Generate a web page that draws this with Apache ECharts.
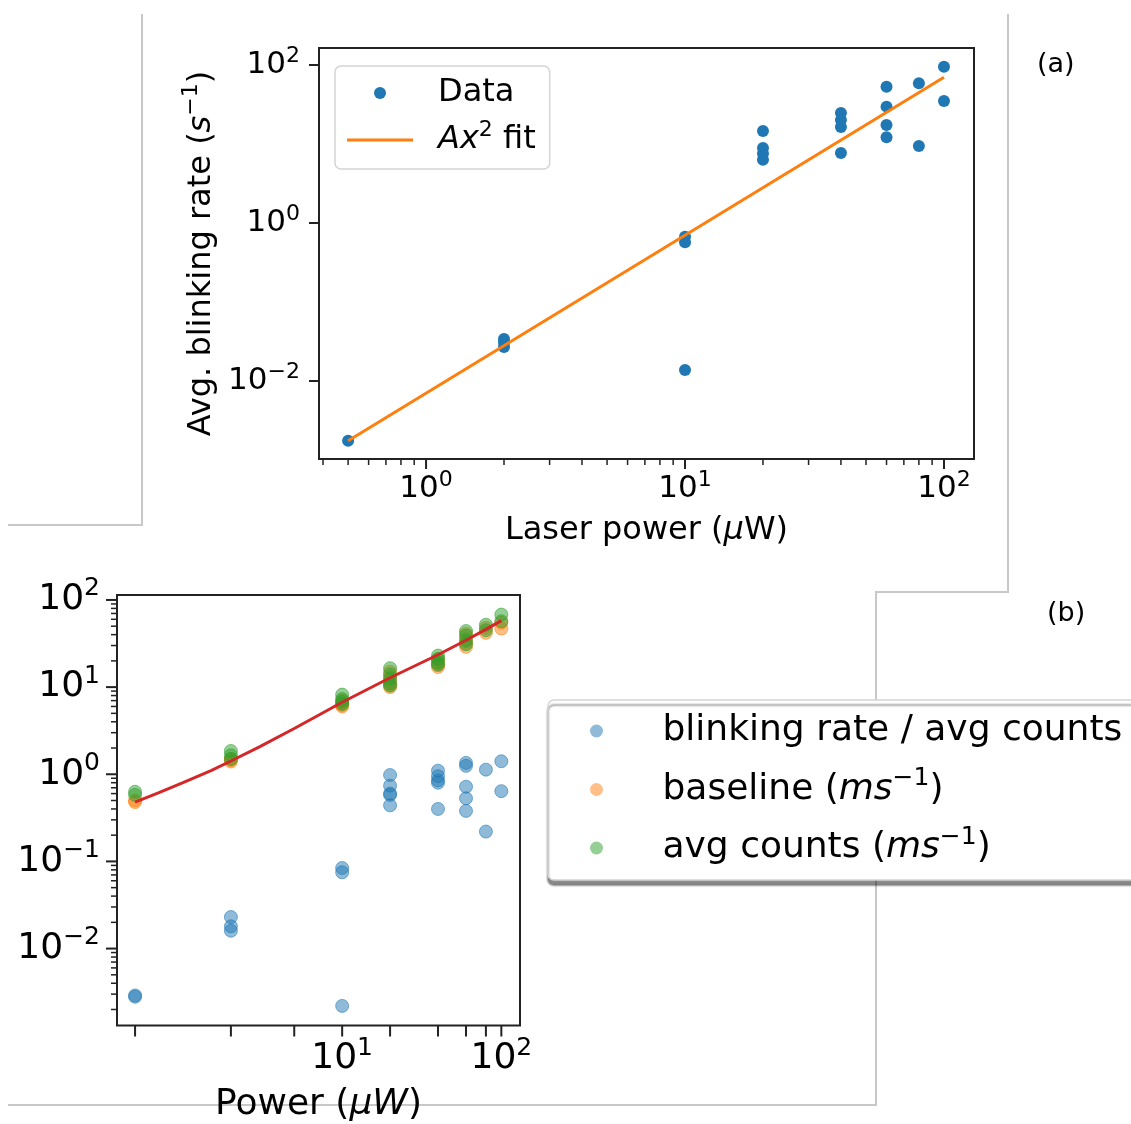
<!DOCTYPE html>
<html>
<head>
<meta charset="utf-8">
<script src="https://cdn.jsdelivr.net/npm/echarts@6/dist/echarts.min.js"></script>
<style>
  html, body { margin: 0; padding: 0; background: #fff; }
  #chart { width: 1131px; height: 1124px; }
</style>
</head>
<body>
<div id="chart"></div>
<script>
// (a) blinking rate vs laser power
var topX = [0.5, 2, 2, 2, 10, 10, 10, 20, 20, 20, 20, 40, 40, 40, 40, 60, 60, 60, 60, 80, 80, 100, 100];
var topY = [0.00175, 0.034, 0.031, 0.027, 0.67, 0.57, 0.0138, 14.6, 8.9, 7.6, 6.3, 24.7, 20.1, 16.4, 7.7, 53, 29.7, 17.4, 12.2, 58.6, 9.4, 95, 35];
var fitX = [0.5, 100];
var fitY = [0.00175, 70];

// (b) counts vs power
var blueX = [0.5, 0.5, 2, 2, 2, 10, 10, 10, 20, 20, 20, 20, 20, 40, 40, 40, 40, 40, 60, 60, 60, 60, 60, 80, 80, 100, 100];
var blueY = [0.0029, 0.0028, 0.023, 0.018, 0.016, 0.084, 0.075, 0.0022, 0.98, 0.74, 0.6, 0.58, 0.44, 1.1, 0.95, 0.85, 0.8, 0.4, 1.35, 1.25, 0.72, 0.53, 0.38, 1.13, 0.22, 1.41, 0.64];
var baseX = [0.5, 0.5, 2, 2, 2, 10, 10, 10, 10, 20, 20, 20, 20, 20, 40, 40, 40, 40, 60, 60, 60, 60, 80, 80, 100, 100];
var baseY = [0.5, 0.48, 1.5, 1.45, 1.4, 7.0, 6.5, 6.2, 6.0, 15, 13, 11.5, 10.5, 10, 21, 19.5, 18, 17, 41, 36, 32, 29, 48, 42, 55, 47];
var cntX = [0.5, 0.5, 2, 2, 2, 10, 10, 10, 10, 20, 20, 20, 20, 20, 40, 40, 40, 40, 60, 60, 60, 60, 80, 80, 100, 100];
var cntY = [0.63, 0.58, 1.85, 1.65, 1.5, 8.2, 7.3, 6.8, 6.4, 16.5, 14, 12.5, 11, 10.4, 23, 21, 19, 18, 44, 39, 34, 31, 52, 45, 68, 57];
var redX = [0.5, 0.7, 1, 1.5, 2, 3, 5, 10, 20, 40, 60, 80, 100];
var redY = [0.48, 0.61, 0.8, 1.1, 1.42, 2.05, 3.35, 6.7, 12.8, 23.5, 34.5, 46, 58];

// ticks
var topXMajor = [1, 10, 100];
var topXMinor = [0.4, 0.5, 0.6, 0.7, 0.8, 0.9, 2, 3, 4, 5, 6, 7, 8, 9, 20, 30, 40, 50, 60, 70, 80, 90];
var topYMajor = [0.01, 1, 100];
var botXTicks = [0.5, 2, 5, 10, 20, 40, 60, 80, 100];
var botYMajor = [0.01, 0.1, 1, 10, 100];
var botYMinor = [0.002, 0.003, 0.004, 0.005, 0.006, 0.007, 0.008, 0.009,
                 0.02, 0.03, 0.04, 0.05, 0.06, 0.07, 0.08, 0.09,
                 0.2, 0.3, 0.4, 0.5, 0.6, 0.7, 0.8, 0.9,
                 2, 3, 4, 5, 6, 7, 8, 9, 20, 30, 40, 50, 60, 70, 80, 90];

var FONT = 'DejaVu Sans';
var ax0 = { xMin: 0.386, xMax: 130.6, yMin: 0.00103, yMax: 164 };
var ax1 = { xMin: 0.385, xMax: 131, yMin: 0.00131, yMax: 114 };

function zip(xs, ys) {
    return xs.map(function (x, i) { return [x, ys[i]]; });
}

function richFor(size) {
    return {
        i: { fontFamily: FONT, fontSize: size, fontStyle: 'italic', color: '#000', lineHeight: Math.round(size * 1.3) },
        n: { fontFamily: FONT, fontSize: size, color: '#000', lineHeight: Math.round(size * 1.3) },
        s: { fontFamily: FONT, fontSize: Math.round(size * 0.7), color: '#000', verticalAlign: 'top', lineHeight: Math.round(size * 0.75) }
    };
}

function powLabel(keep) {
    return function (v) {
        var e = Math.log10(v);
        var r = Math.round(e);
        if (Math.abs(e - r) > 1e-6 || !keep(r)) return '';
        return '{n|10}{s|' + (r < 0 ? '\u2212' + (-r) : r) + '}';
    };
}

function tickSeries(gi, dir, values, edge, len, lw) {
    return {
        type: 'custom', xAxisIndex: gi, yAxisIndex: gi, silent: true, z: 5,
        data: values.map(function (v) { return dir === 'x' ? [v, edge] : [edge, v]; }),
        renderItem: function (params, api) {
            var p = api.coord([api.value(0), api.value(1)]);
            var shape = dir === 'x'
                ? { x1: p[0], y1: p[1], x2: p[0], y2: p[1] + len }
                : { x1: p[0], y1: p[1], x2: p[0] - len, y2: p[1] };
            return { type: 'line', shape: shape, style: { stroke: '#222', lineWidth: lw } };
        }
    };
}

function logAxis(gi, a, b, labelOpt, extra) {
    var o = {
        type: 'log', logBase: 10, gridIndex: gi, min: a, max: b,
        axisLine: { show: false }, axisTick: { show: false },
        minorTick: { show: false }, splitLine: { show: false },
        axisLabel: labelOpt
    };
    for (var k in extra) o[k] = extra[k];
    return o;
}

function labelStyle(size, margin, fmt) {
    return {
        margin: margin, formatter: fmt, fontFamily: FONT, fontSize: size, color: '#000',
        lineHeight: Math.round(size * 1.3), rich: richFor(size)
    };
}

var chart = echarts.init(document.getElementById('chart'));
chart.setOption({
    animation: false,
    backgroundColor: '#fff',
    grid: [
        { left: 319, top: 48, width: 655, height: 411, show: true, borderColor: '#222', borderWidth: 2, backgroundColor: 'transparent' },
        { left: 117, top: 595, width: 403, height: 436, show: true, borderColor: '#222', borderWidth: 2, backgroundColor: 'transparent' }
    ],
    xAxis: [
        logAxis(0, ax0.xMin, ax0.xMax, labelStyle(31, 10, powLabel(function () { return true; })), {
            name: 'Laser power ({i|\u03bc}W)', nameLocation: 'middle', nameGap: 51,
            nameTextStyle: { fontFamily: FONT, fontSize: 32, color: '#000', rich: richFor(32) }
        }),
        logAxis(1, ax1.xMin, ax1.xMax, labelStyle(36, 10, powLabel(function (e) { return e > 0; })), {
            name: 'Power ({i|\u03bcW})', nameLocation: 'middle', nameGap: 56,
            nameTextStyle: { fontFamily: FONT, fontSize: 36, color: '#000', rich: richFor(36) }
        })
    ],
    yAxis: [
        logAxis(0, ax0.yMin, ax0.yMax, labelStyle(31, 19, powLabel(function (e) { return e % 2 === 0; })), {
            name: 'Avg. blinking rate ({i|s}{s|\u22121})', nameLocation: 'middle', nameGap: 93,
            nameTextStyle: { fontFamily: FONT, fontSize: 32, color: '#000', rich: richFor(32) }
        }),
        logAxis(1, ax1.yMin, ax1.yMax, labelStyle(36, 17, powLabel(function () { return true; })), {})
    ],
    legend: [
        {
            data: [
                { name: 'Data', icon: 'circle' },
                { name: 'fitA', icon: 'path://M0,0L66,0L66,3L0,3Z' }
            ],
            orient: 'vertical', left: 335, top: 66,
            itemWidth: 66, itemHeight: 12, itemGap: 10,
            padding: [11, 14, 13, 12],
            backgroundColor: '#fff', borderColor: '#d4d4d4', borderWidth: 1.5, borderRadius: 6,
            formatter: function (name) { return name === 'Data' ? '{n|Data}' : '{i|Ax}{s|2}{n| fit}'; },
            textStyle: { fontFamily: FONT, fontSize: 32, color: '#000', padding: [0, 0, 0, 20], rich: richFor(32) }
        },
        {
            data: [
                { name: 'blue', icon: 'circle' },
                { name: 'base', icon: 'circle' },
                { name: 'cnt', icon: 'circle' }
            ],
            orient: 'vertical', left: 590, top: 713,
            itemWidth: 98, itemHeight: 13, itemGap: 17,
            padding: 0,
            itemStyle: { borderWidth: 0 },
            formatter: function (name) {
                if (name === 'blue') return '{n|blinking rate / avg counts}';
                if (name === 'base') return '{n|baseline (}{i|ms}{s|\u22121}{n|)}';
                return '{n|avg counts (}{i|ms}{s|\u22121}{n|)}';
            },
            textStyle: {
                fontFamily: FONT, fontSize: 36, color: '#000', padding: [0, 0, 0, 12],
                width: 400, overflow: 'none', rich: richFor(36)
            }
        }
    ],
    graphic: [
        { type: 'polyline', silent: true, z: -10, shape: { points: [[142, 14], [142, 525], [8, 525]] }, style: { stroke: '#c8c8c8', lineWidth: 2, fill: null } },
        { type: 'polyline', silent: true, z: -10, shape: { points: [[1008, 14], [1008, 592], [876, 592], [876, 1105], [8, 1105]] }, style: { stroke: '#c8c8c8', lineWidth: 2, fill: null } },
        {
            type: 'rect', silent: true, z: 0,
            shape: { x: 548, y: 700, width: 620, height: 180, r: 6 },
            style: { fill: '#fff', stroke: '#d4d4d4', lineWidth: 1.5, shadowColor: 'rgba(0,0,0,0.45)', shadowBlur: 2, shadowOffsetX: 0, shadowOffsetY: 5 }
        },
        { type: 'text', left: 1037, top: 51, style: { text: '(a)', fontFamily: FONT, fontSize: 27, fill: '#000' } },
        { type: 'text', left: 1047, top: 600, style: { text: '(b)', fontFamily: FONT, fontSize: 27, fill: '#000' } }
    ],
    series: [
        {
            name: 'Data', type: 'scatter', xAxisIndex: 0, yAxisIndex: 0,
            symbolSize: 12, itemStyle: { color: '#1f77b4', opacity: 1 }, data: zip(topX, topY)
        },
        {
            name: 'fitA', type: 'line', xAxisIndex: 0, yAxisIndex: 0, symbol: 'none',
            lineStyle: { color: '#ff7f0e', width: 3 }, itemStyle: { color: '#ff7f0e' }, data: zip(fitX, fitY)
        },
        {
            name: 'blue', type: 'scatter', xAxisIndex: 1, yAxisIndex: 1, symbolSize: 13,
            itemStyle: { color: 'rgba(31,119,180,0.5)', borderColor: 'rgba(31,119,180,0.55)', borderWidth: 1, opacity: 1 },
            data: zip(blueX, blueY)
        },
        {
            name: 'base', type: 'scatter', xAxisIndex: 1, yAxisIndex: 1, symbolSize: 13,
            itemStyle: { color: 'rgba(255,127,14,0.5)', borderColor: 'rgba(255,127,14,0.55)', borderWidth: 1, opacity: 1 },
            data: zip(baseX, baseY)
        },
        {
            name: 'cnt', type: 'scatter', xAxisIndex: 1, yAxisIndex: 1, symbolSize: 13,
            itemStyle: { color: 'rgba(44,160,44,0.5)', borderColor: 'rgba(44,160,44,0.55)', borderWidth: 1, opacity: 1 },
            data: zip(cntX, cntY)
        },
        {
            name: 'fitB', type: 'line', xAxisIndex: 1, yAxisIndex: 1, symbol: 'none',
            lineStyle: { color: '#d62728', width: 3 }, data: zip(redX, redY)
        },
        tickSeries(0, 'x', topXMajor, ax0.yMin, 10, 2),
        tickSeries(0, 'x', topXMinor, ax0.yMin, 6, 1.5),
        tickSeries(0, 'y', topYMajor, ax0.xMin, 10, 2),
        tickSeries(1, 'x', botXTicks, ax1.yMin, 11, 2),
        tickSeries(1, 'y', botYMajor, ax1.xMin, 11, 2),
        tickSeries(1, 'y', botYMinor, ax1.xMin, 6, 1.5)
    ]
});
</script>
</body>
</html>
